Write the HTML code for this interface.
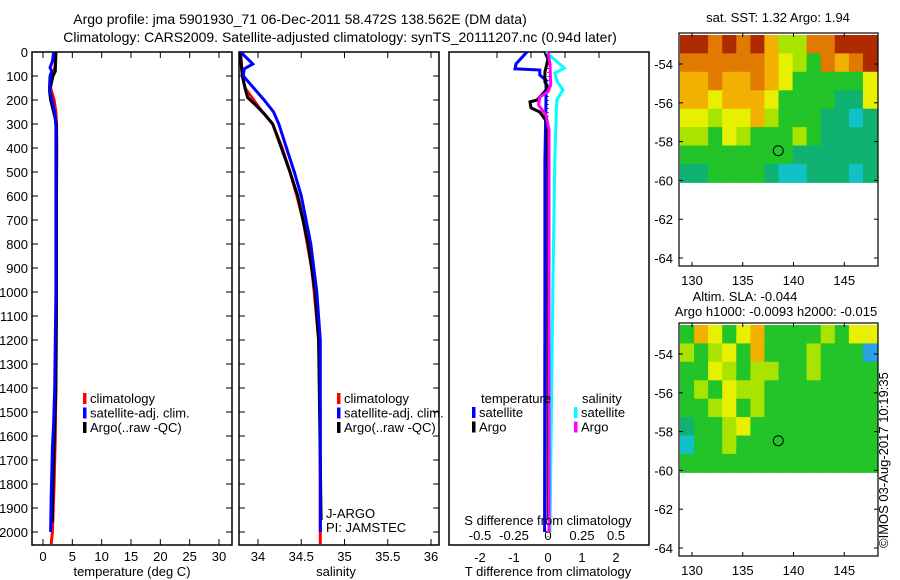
<!DOCTYPE html>
<html><head><meta charset="utf-8">
<style>
html,body{margin:0;padding:0;background:#fff;}
svg{display:block;font-family:"Liberation Sans",sans-serif;}
text{font-size:13px;fill:#000;}
</style></head>
<body>
<svg id="fig" width="900" height="580" viewBox="0 0 900 580" xmlns="http://www.w3.org/2000/svg">
<text x="300" y="24" text-anchor="middle" style="font-size:14px">Argo profile: jma 5901930_71 06-Dec-2011 58.472S 138.562E (DM data)</text>
<text x="340" y="42" text-anchor="middle" style="font-size:14px">Climatology: CARS2009. Satellite-adjusted climatology: synTS_20111207.nc (0.94d later)</text>
<g id="g1"></g>
<g id="g2"></g>
<g id="g3"></g>
<g id="g4"></g>
<g id="g5"></g>
<text x="778" y="22" text-anchor="middle">sat. SST: 1.32 Argo: 1.94</text>
<text x="745" y="301" text-anchor="middle">Altim. SLA: -0.044</text>
<text x="776" y="316" text-anchor="middle">Argo h1000: -0.0093 h2000: -0.015</text>
<text transform="translate(888,548) rotate(-90)">©IMOS 03-Aug-2017 10:19:35</text>
</svg>
<script>
// ---- data ----
const tempClimDepth = [0,50,80,100,150,200,250,300,400,600,1000,1400,1600,1800,2000,2050];
const tempClim      = [2.2,2.1,1.9,1.6,1.3,1.9,2.2,2.3,2.35,2.3,2.3,2.2,2.1,1.9,1.6,1.4];
const tempArgoDepth = [0,80,100,160,200,250,300,880,1000,1400,1550,1900,1960];
const tempArgo      = [2.2,2.1,1.7,1.1,1.3,1.8,2.3,2.3,2.3,2.2,2.0,1.6,1.6];
const tempSatDepth  = [0,40,65,80,100,150,200,250,310,1000,1400,1550,1650,1850,2000];
const tempSat       = [1.8,1.6,1.2,1.5,1.2,1.1,1.5,2.0,2.2,2.2,2.0,1.8,1.6,1.4,1.3];
const salClimDepth = [0,100,150,200,250,300,400,500,600,700,800,900,1000,1200,1500,2050];
const salClim      = [33.80,33.82,33.85,33.95,34.05,34.17,34.28,34.37,34.45,34.52,34.57,34.62,34.65,34.70,34.72,34.72];
const salArgoDepth = [0,100,150,190,220,260,300,400,500,600,800,1000,1200,1950];
const salArgo      = [33.79,33.82,33.85,33.88,33.97,34.08,34.17,34.27,34.37,34.46,34.58,34.66,34.70,34.73];
const salSatDepth  = [0,50,70,100,150,200,250,300,400,500,600,800,1000,1200,2000];
const salSat       = [33.80,33.94,33.84,33.83,33.95,34.07,34.18,34.24,34.33,34.42,34.50,34.61,34.68,34.72,34.72];
const dTSatDepth = [0,50,70,75,96,117,200,450,1000,1900,2000];
const dTSat      = [-0.62,-0.94,-0.97,-0.24,-0.24,-0.06,-0.06,-0.09,-0.09,-0.1,-0.1];
const dTArgoDepth = [0,30,83,125,150,200,208,233,250,292,500,1000,1950];
const dTArgo      = [-0.09,0,-0.09,-0.09,0,-0.32,-0.53,-0.5,-0.24,-0.03,0,0,0];
const dSArgoDepth = [0,50,137,165,188,221,262,325,1000,2000];
const dSArgo      = [0,0.015,0.02,0,-0.06,-0.07,-0.015,0.007,0.007,0.007];
const dSSatDepth  = [0,30,67,88,125,158,200,262,450,1000,2000];
const dSSat       = [-0.015,0.045,0.12,0.05,0.07,0.11,0.065,0.06,0.05,0.035,0.015];
const depthTicks = [0,100,200,300,400,500,600,700,800,900,1000,1100,1200,1300,1400,1500,1600,1700,1800,1900,2000];
const tempTicks = [0,5,10,15,20,25,30];
const salTicks = [34,34.5,35,35.5,36];
const salTickLabels = ["34","34.5","35","35.5","36"];
const dTTicks = [-2,-1,0,1,2];
const dSTicks = [-0.5,-0.25,0,0.25,0.5];
const dSTickLabels = ["-0.5","-0.25","0","0.25","0.5"];
const latTicks = [-54,-56,-58,-60,-62,-64];
const lonTicks = [130,135,140,145];
const argoLon = [138.5], argoLat = [-58.47];
const sstGrid = ["RRORORoLLOORRR","OOOOOOoYLGOoOR","ooOooOoYGGGGGY","ooYoooYGGGGggY","YYLYYoLGGGggCg","LLGYLGGGLGgggg","GGGGGGGGgggggg","ggGGGGgCCgggCg"];
const slaGrid = ["GoYGYoGGGGLGYY","LGLYGoGGGLGGGB","GGYLGLLGGLGGGG","GLGYLLGGGGGGGG","GGLYGLGGGGGGGG","gGGLYGGGGGGGGG","CGGLGGGGGGGGGG","GGGGGGGGGGGGGG"];

const NS="http://www.w3.org/2000/svg";
function mk(parent,tag,attrs,txt){const e=document.createElementNS(NS,tag);for(const k in attrs)e.setAttribute(k,attrs[k]);if(txt!==undefined)e.textContent=txt;parent.appendChild(e);return e;}
const top0=52, bot0=545;
const yD = d => top0 + d*0.24;

function frame(g,x0,x1,leftLabels){
  const r=mk(g,'rect',{x:x0,y:top0,width:x1-x0,height:bot0-top0,fill:'none',stroke:'#000','stroke-width':1.5});
  
  
  depthTicks.forEach(d=>{
    mk(g,'line',{x1:x0,x2:x0+6,y1:yD(d),y2:yD(d),stroke:'#000'});
    mk(g,'line',{x1:x1-6,x2:x1,y1:yD(d),y2:yD(d),stroke:'#000'});
    if(leftLabels){
      const t=mk(g,'text',{x:28,y:yD(d)+5,'text-anchor':'end'},String(d));
      
      
    }
  });
}
function xTicks(g,vals,labels,sx,ly,topT,botT){
  vals.forEach((v,i)=>{
    const x=sx(v);
    if(topT) mk(g,'line',{x1:x,x2:x,y1:top0,y2:top0+6,stroke:'#000'});
    if(botT) mk(g,'line',{x1:x,x2:x,y1:bot0-6,y2:bot0,stroke:'#000'});
    const t=mk(g,'text',{x:x,y:ly,'text-anchor':'middle'},labels[i]);
    
    
  });
}
function line(g,ds,vs,sx,col,name,w){
  const pts=ds.map((d,i)=>sx(vs[i]).toFixed(1)+','+yD(d).toFixed(1)).join(' ');
  const p=mk(g,'polyline',{points:pts,fill:'none',stroke:col,'stroke-width':w||3,'stroke-linejoin':'miter'});
  
  
}
function legend(g,x,y,items){
  items.forEach((it,i)=>{
    mk(g,'rect',{x:x,y:y+i*14.5-10,width:3.5,height:11,fill:it[1]});
    const t=mk(g,'text',{x:x+7,y:y+i*14.5},it[0]);
    
    
  });
}

// Panel 1
const g1=document.getElementById('g1');
const sxT = v => 43 + v*(176/30);
frame(g1,32,232,true);
xTicks(g1,tempTicks,tempTicks.map(String),sxT,561,true,true);
line(g1,tempClimDepth,tempClim,sxT,'#ff0000','temperature-climatology-line');
line(g1,tempArgoDepth,tempArgo,sxT,'#000000','temperature-argo-line');
line(g1,tempSatDepth,tempSat,sxT,'#0000ff','temperature-satellite-line');
legend(g1,83,403,[['climatology','#ff0000'],['satellite-adj. clim.','#0000ff'],['Argo(..raw -QC)','#000']]);
mk(g1,'text',{x:132,y:576,'text-anchor':'middle'},'temperature (deg C)');

// Panel 2
const g2=document.getElementById('g2');
const sxS = v => 258 + (v-34)*86.5;
frame(g2,239,439,false);
xTicks(g2,salTicks,salTickLabels,sxS,561,true,true);
line(g2,salClimDepth,salClim,sxS,'#ff0000','salinity-climatology-line');
line(g2,salArgoDepth,salArgo,sxS,'#000000','salinity-argo-line');
line(g2,salSatDepth,salSat,sxS,'#0000ff','salinity-satellite-line');
legend(g2,337,403,[['climatology','#ff0000'],['satellite-adj. clim.','#0000ff'],['Argo(..raw -QC)','#000']]);
mk(g2,'text',{x:326,y:518},'J-ARGO');
mk(g2,'text',{x:326,y:532},'PI: JAMSTEC');
mk(g2,'text',{x:336,y:576,'text-anchor':'middle'},'salinity');

// Panel 3
const g3=document.getElementById('g3');
const sxDT = v => 548 + v*34;
const sxDS = v => 548 + v*136;
const r3=mk(g3,'rect',{x:449,y:top0,width:200,height:bot0-top0,fill:'none',stroke:'#000','stroke-width':1.5});


[ -1,0,1,2].forEach(v=>mk(g3,'line',{x1:sxDT(v-0.5),x2:sxDT(v-0.5),y1:top0,y2:top0+6,stroke:'#000'}));
mk(g3,'line',{x1:548,x2:548,y1:60,y2:540,stroke:'#000','stroke-dasharray':'1,3'});
xTicks(g3,dTTicks,dTTicks.map(String),sxDT,562,false,false);
dSTicks.forEach((v,i)=>{const t=mk(g3,'text',{x:sxDS(v),y:540,'text-anchor':'middle'},dSTickLabels[i]);});
line(g3,dTSatDepth,dTSat,sxDT,'#0000ff','temp-diff-satellite-line');
line(g3,dTArgoDepth,dTArgo,sxDT,'#000000','temp-diff-argo-line');
line(g3,dSSatDepth,dSSat,sxDS,'#00ffff','sal-diff-satellite-line');
line(g3,dSArgoDepth,dSArgo,sxDS,'#ff00ff','sal-diff-argo-line');
mk(g3,'text',{x:481,y:403},'temperature');
mk(g3,'text',{x:582,y:403},'salinity');
legend(g3,472,417,[['satellite','#0000ff'],['Argo','#000']]);
legend(g3,574,417,[['satellite','#00ffff'],['Argo','#ff00ff']]);
mk(g3,'text',{x:548,y:525,'text-anchor':'middle'},'S difference from climatology');
mk(g3,'text',{x:548,y:576,'text-anchor':'middle'},'T difference from climatology');

// Maps
const pal={R:'#b02a00',O:'#e07a00',o:'#f2b000',Y:'#e6f000',L:'#a8e400',G:'#22c42a',g:'#10b272',C:'#10c2c6',B:'#2aa0e8'};
function map(g,y0,grid,name){
  const x0=679,x1=878,yb=y0+233;
  const sx=lon=>692+(lon-130)*10.15;
  const sy=lat=>y0+31+(-54-lat)*19.4;
  const gy0=y0+2, gy1=sy(-60.1);
  const rows=grid.length;
  grid.forEach((row,r)=>{
    const cols=row.length, cw=(x1-x0-2)/cols, rh=(gy1-gy0)/rows;
    for(let c=0;c<cols;c++){
      mk(g,'rect',{x:(x0+1+c*cw).toFixed(1),y:(gy0+r*rh).toFixed(1),width:(cw+0.6).toFixed(1),height:(rh+0.6).toFixed(1),fill:pal[row[c]]});
    }
  });
  const fr=mk(g,'rect',{x:x0,y:y0,width:x1-x0,height:233,fill:'none',stroke:'#000','stroke-width':1.2});
  
  
  latTicks.forEach(l=>{
    mk(g,'line',{x1:x0,x2:x0+4,y1:sy(l),y2:sy(l),stroke:'#000'});
    mk(g,'line',{x1:x1-4,x2:x1,y1:sy(l),y2:sy(l),stroke:'#000'});
    const t=mk(g,'text',{x:673,y:sy(l)+5,'text-anchor':'end'},String(l));
    
  });
  lonTicks.forEach(l=>{
    mk(g,'line',{x1:sx(l),x2:sx(l),y1:y0,y2:y0+4,stroke:'#000'});
    mk(g,'line',{x1:sx(l),x2:sx(l),y1:yb-4,y2:yb,stroke:'#000'});
    const t=mk(g,'text',{x:sx(l),y:yb+19,'text-anchor':'middle'},String(l));
    
  });
  const c=mk(g,'circle',{cx:sx(argoLon[0]),cy:sy(argoLat[0]),r:5,fill:'none',stroke:'#000','stroke-width':1});
  
  
}
map(document.getElementById('g4'),33,sstGrid,'sst-map');
map(document.getElementById('g5'),323,slaGrid,'sla-map');
</script>
</body></html>
